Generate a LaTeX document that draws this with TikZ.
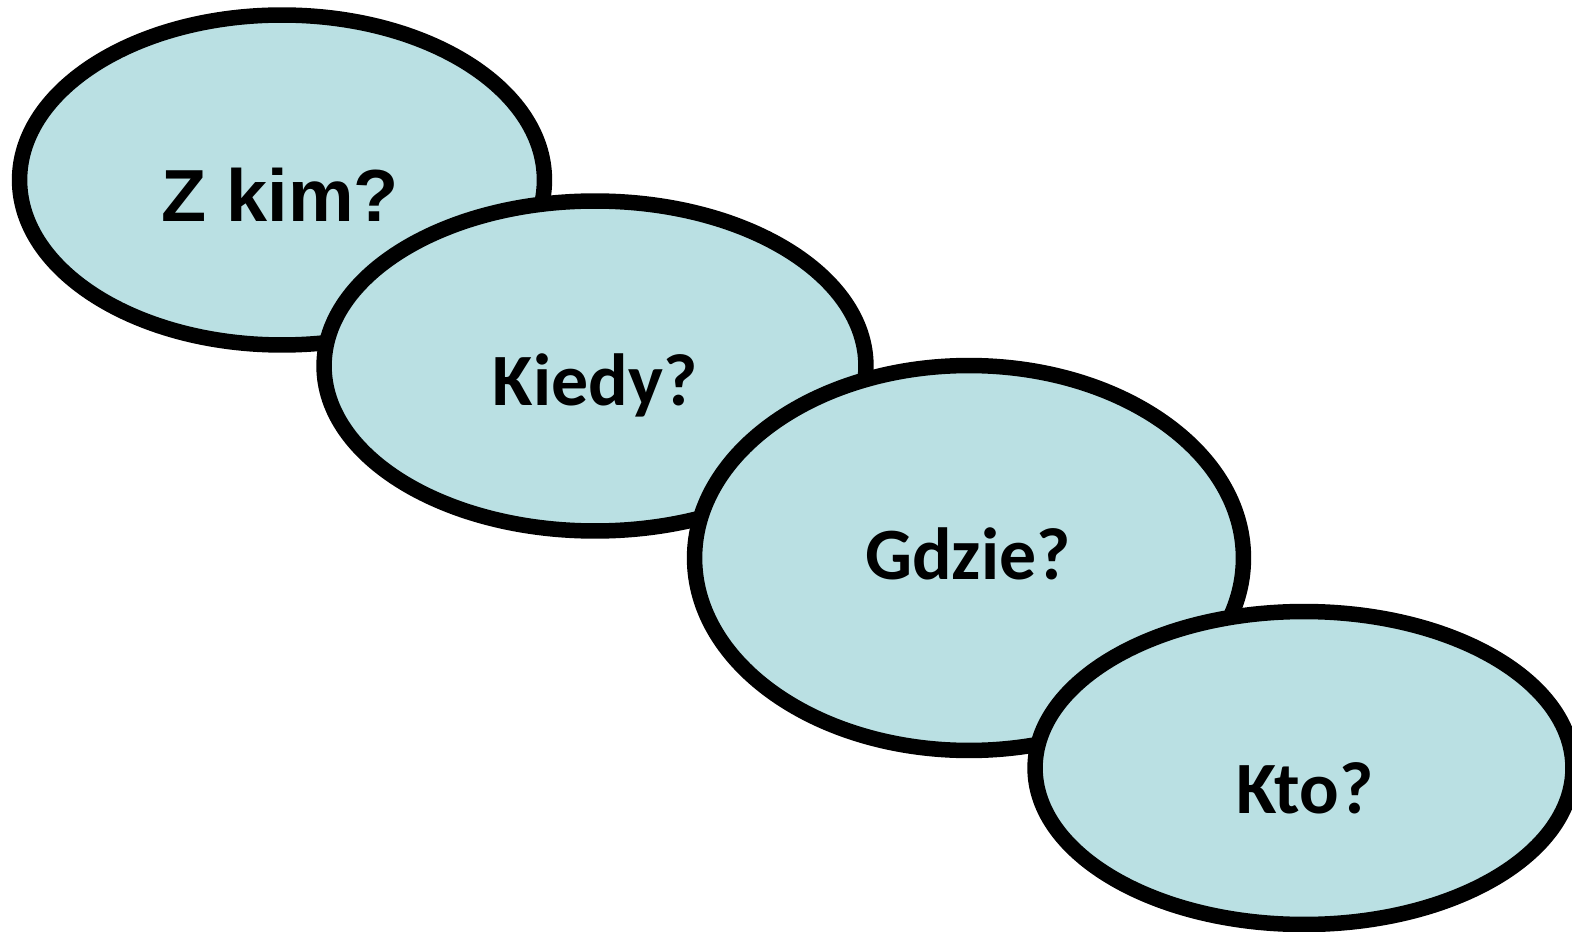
\documentclass[tikz,border=0pt]{standalone}
\usepackage{fontspec}
\setmainfont{Carlito}
\newfontfamily\arialfont{Liberation Sans}
\usetikzlibrary{shapes.geometric}
\definecolor{bubblefill}{RGB}{186,224,227}

\begin{document}
\begin{tikzpicture}[x=0.02cm,y=-0.02cm,
  bubble/.style={ellipse,draw=black,line width=0.31cm,fill=bubblefill,inner sep=0pt},
  word/.style={anchor=base,font=\fontsize{42}{42}\selectfont\bfseries}]
\useasboundingbox (0,0) rectangle (1572,932);
\clip (0,0) rectangle (1572,932);

  \node[bubble,minimum width=10.5cm,minimum height=6.6cm] (zkim) at (282,180) {};
  \node[word,font=\fontsize{42}{42}\selectfont\arialfont\bfseries] (zkimtxt) at (280,222) {Z kim?};

  \node[bubble,minimum width=10.84cm,minimum height=6.6cm] (kiedy) at (595,366) {};
  \node[word] (kiedytxt) at (595,406) {Kiedy?};

  \node[bubble,minimum width=10.98cm,minimum height=7.7cm] (gdzie) at (969,558) {};
  \node[word] (gdzietxt) at (968,579) {Gdzie?};

  \node[bubble,minimum width=10.76cm,minimum height=6.26cm] (kto) at (1304,768) {};
  \node[word] (ktotxt) at (1305,813) {Kto?};

 \end{tikzpicture}
\end{document}
